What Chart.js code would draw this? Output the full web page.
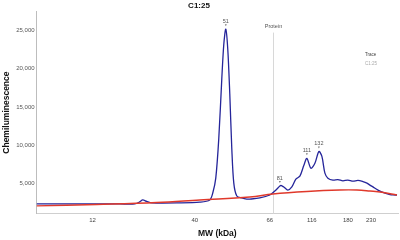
<!DOCTYPE html>
<html><head><meta charset="utf-8">
<script src="https://cdn.jsdelivr.net/npm/chart.js@4/dist/chart.umd.min.js"></script>
<style>html,body{margin:0;padding:0;background:#fff}#w{width:400px;height:240px}</style>
</head><body><div id="w"><canvas id="c"></canvas></div>
<script>
const chartTitle = 'C1:25';
const xTitle = 'MW (kDa)';
const yTitle = 'Chemiluminescence';
// trace (migration position vs. signal)
const traceX = [0,23,53,83,98,103,106,110,115,143,163,173,176,179,182,185,187,189,191,193,195,197,200,205,210,213,223,233,238,243,244,247,251,255,259,263,267,270,274,278,282,285,288,291,296,301,306,311,316,321,326,330,333,336,341,348,353,356,360];
const traceY = [2270,2270,2270,2270,2270,2530,2790,2600,2400,2400,2500,2790,3700,5650,10840,18640,23180,25200,22530,16690,9550,5000,3310,3050,2900,2900,3050,3440,3960,4610,4700,4480,4090,4500,5520,5910,7340,8250,6950,7600,9150,8500,6300,5650,5390,5450,5300,5400,5250,5350,5200,5000,4740,4500,4090,3700,3500,3450,3440];
// baseline fit
const baseX = [0,60,120,163,213,236,270,303,320,333,345,360];
const baseY = [2010,2200,2450,2790,3180,3570,3900,4090,4090,3960,3800,3440];
const mwTickPos = [56,158,233,275,311,334];
const mwTickLabels = ['12','40','66','116','180','230'];
const yTicks = [5000,10000,15000,20000,25000];
const peakX = [189,243,270,282];
const peakY = [25200,4610,8250,9150];
const peakLabels = ['51','81','111','132'];
const proteinX = [236];
const proteinLabel = ['Protein'];
const legendLabels = ['Trace','C1:25'];

const pts = (xs, ys) => xs.map((x, i) => ({x, y: ys[i]}));

const annot = {
  id: 'annot',
  beforeDatasetsDraw(chart) {
    const {ctx, chartArea, scales} = chart;
    ctx.save();
    proteinX.forEach((v, i) => {
      const px = Math.round(scales.x.getPixelForValue(v)) + 0.5;
      ctx.strokeStyle = '#d8d8d8';
      ctx.lineWidth = 1;
      ctx.beginPath();
      ctx.moveTo(px, chartArea.top + 21);
      ctx.lineTo(px, chartArea.bottom);
      ctx.stroke();
      ctx.fillStyle = '#555';
      ctx.font = '5.5px "Liberation Sans", Arial, sans-serif';
      ctx.textAlign = 'center';
      ctx.textBaseline = 'middle';
      ctx.fillText(proteinLabel[i], px, chartArea.top + 15);
    });
    ctx.restore();
  },
  afterDatasetsDraw(chart) {
    const {ctx, chartArea, scales} = chart;
    ctx.save();
    ctx.font = '5.5px "Liberation Sans", Arial, sans-serif';
    ctx.textAlign = 'center';
    ctx.textBaseline = 'middle';
    peakX.forEach((v, i) => {
      const px = scales.x.getPixelForValue(v);
      const py = scales.y.getPixelForValue(peakY[i]);
      ctx.fillStyle = '#555';
      ctx.fillText(peakLabels[i], px, py - 8);
      ctx.fillStyle = '#777';
      ctx.beginPath();
      ctx.moveTo(px - 1, py - 5);
      ctx.lineTo(px + 1, py - 5);
      ctx.lineTo(px, py - 3);
      ctx.closePath();
      ctx.fill();
    });
    ctx.font = '4.5px "Liberation Sans", Arial, sans-serif';
    ctx.textAlign = 'left';
    ctx.fillStyle = '#444';
    ctx.fillText(legendLabels[0], chartArea.right - 33, chartArea.top + 43);
    ctx.fillStyle = '#aaa';
    ctx.fillText(legendLabels[1], chartArea.right - 33, chartArea.top + 52);
    ctx.restore();
  }
};

new Chart(document.getElementById('c'), {
  type: 'scatter',
  data: {
    datasets: [
      {data: pts(baseX, baseY), showLine: true, borderColor: '#e0392b', borderWidth: 1.4, pointRadius: 0, tension: 0.4, fill: false},
      {data: pts(traceX, traceY), showLine: true, borderColor: '#25259a', borderWidth: 1.3, pointRadius: 0, tension: 0.3, fill: false}
    ]
  },
  options: {
    responsive: true,
    maintainAspectRatio: false,
    animation: false,
    events: [],
    layout: {padding: {left: 0, right: 2, top: 0, bottom: 0}},
    plugins: {
      legend: {display: false},
      tooltip: {enabled: false},
      title: {display: true, text: chartTitle, color: '#111', font: {family: '"Liberation Sans", Arial, sans-serif', size: 8, weight: 'bold'}, padding: {top: 1, bottom: 1}}
    },
    scales: {
      x: {
        type: 'linear', min: 0, max: 361,
        grid: {display: false, drawTicks: false},
        border: {display: true, color: '#cfcfcf', width: 1},
        afterBuildTicks: (s) => { s.ticks = mwTickPos.map(v => ({value: v})); },
        ticks: {autoSkip: false, maxRotation: 0, padding: 3, color: '#444', font: {family: '"Liberation Sans", Arial, sans-serif', size: 6},
          callback: (v) => { const i = mwTickPos.indexOf(v); return i >= 0 ? mwTickLabels[i] : ''; }},
        title: {display: true, text: xTitle, color: '#111', font: {family: '"Liberation Sans", Arial, sans-serif', size: 8.5, weight: 'bold'}, padding: {top: 2, bottom: 1}}
      },
      y: {
        type: 'linear', min: 1000, max: 27500,
        grid: {display: false, drawTicks: false},
        border: {display: true, color: '#bdbdbd', width: 1},
        afterBuildTicks: (s) => { s.ticks = yTicks.map(v => ({value: v})); },
        ticks: {padding: 2, color: '#555', font: {family: '"Liberation Sans", Arial, sans-serif', size: 6},
          callback: (v) => v.toLocaleString('en-US')},
        title: {display: true, text: yTitle, color: '#111', font: {family: '"Liberation Sans", Arial, sans-serif', size: 8.5, weight: 'bold'}, padding: {top: 2, bottom: 2}}
      }
    }
  },
  plugins: [annot]
});
</script>
</body></html>
